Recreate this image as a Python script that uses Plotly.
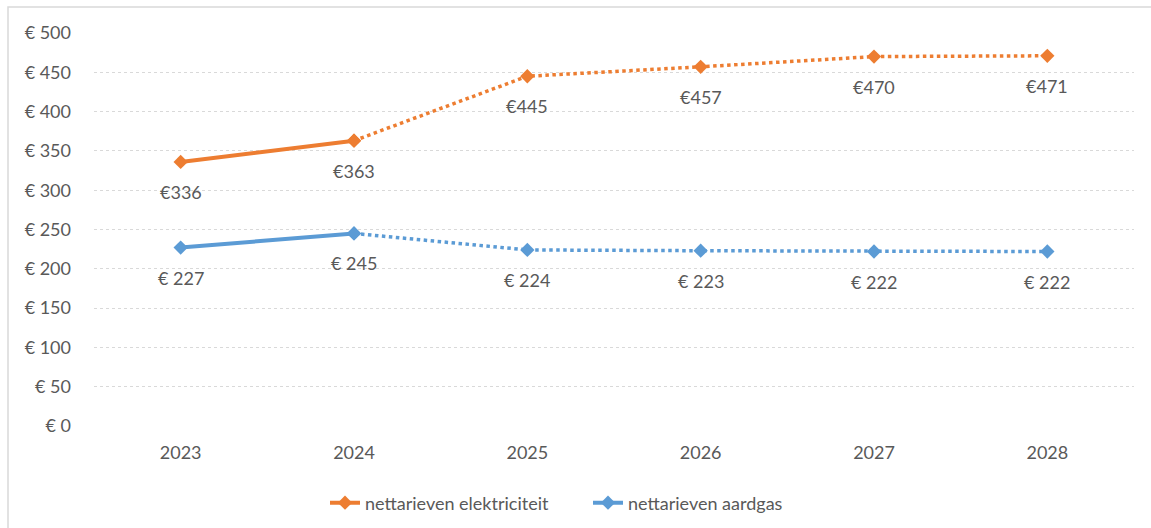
import plotly.graph_objects as go

years = ["2023", "2024", "2025", "2026", "2027", "2028"]
elektriciteit = [336, 363, 445, 457, 470, 471]
aardgas = [227, 245, 224, 223, 222, 222]
elek_labels = ["€336", "€363", "€445", "€457", "€470", "€471"]
gas_labels = ["€ 227", "€ 245", "€ 224", "€ 223", "€ 222", "€ 222"]
y_ticks = [0, 50, 100, 150, 200, 250, 300, 350, 400, 450, 500]
y_tick_text = ["€ " + str(v) for v in y_ticks]

ORANGE = "#ED7D31"
BLUE = "#5B9BD5"
TXT = "#595959"
FONT = "Lato"

fig = go.Figure()

n_actual = 2  # solid portion: 2023-2024

for name, vals, color in [("nettarieven elektriciteit", elektriciteit, ORANGE),
                          ("nettarieven aardgas", aardgas, BLUE)]:
    fig.add_trace(go.Scatter(
        x=years[:n_actual], y=vals[:n_actual], mode="lines+markers",
        name=name, legendgroup=name, showlegend=True,
        line=dict(color=color, width=4),
        marker=dict(symbol="diamond", size=11, color=color),
    ))
    fig.add_trace(go.Scatter(
        x=years[n_actual - 1:], y=vals[n_actual - 1:], mode="lines+markers",
        name=name, legendgroup=name, showlegend=False,
        line=dict(color=color, width=3.5, dash="dot"),
        marker=dict(symbol="diamond", size=11, color=color),
    ))

for vals, labels in [(elektriciteit, elek_labels), (aardgas, gas_labels)]:
    for i, (y, t) in enumerate(zip(vals, labels)):
        fig.add_annotation(x=i, y=y, xref="x", yref="y", text=t, showarrow=False,
                           yshift=-30, font=dict(family=FONT, size=18, color=TXT))

fig.add_shape(type="rect", xref="paper", yref="paper",
              x0=-86 / 1040, x1=1.05, y0=-0.4, y1=1 + 26 / 393,
              line=dict(color="#D9D9D9", width=1.5), fillcolor="rgba(0,0,0,0)",
              layer="below")

fig.update_layout(
    width=1151, height=528,
    margin=dict(l=94, r=17, t=33, b=102),
    paper_bgcolor="white", plot_bgcolor="white",
    font=dict(family=FONT, size=18, color=TXT),
    xaxis=dict(type="category", showgrid=False, zeroline=False, showline=False,
               ticks="", tickfont=dict(family=FONT, size=18, color=TXT),
               ticklabelstandoff=14, automargin=False,
               range=[-0.5, 5.5]),
    yaxis=dict(range=[0, 500], tickvals=y_ticks, ticktext=y_tick_text,
               showgrid=True, gridcolor="#D9D9D9", griddash="dot", gridwidth=1,
               zeroline=False, showline=False, ticks="", ticklabelstandoff=22,
               automargin=False,
               tickfont=dict(family=FONT, size=18, color=TXT)),
    legend=dict(orientation="h", xref="container", yref="container",
                x=(318 + 17 - 10) / 1151, xanchor="left",
                y=(528 - 503) / 528, yanchor="middle",
                font=dict(family=FONT, size=18, color=TXT),
                entrywidth=218, entrywidthmode="pixels"),
    showlegend=True,
)

fig.write_html("out.html", post_script="document.body.style.margin='0';",
               config={"displayModeBar": False})
